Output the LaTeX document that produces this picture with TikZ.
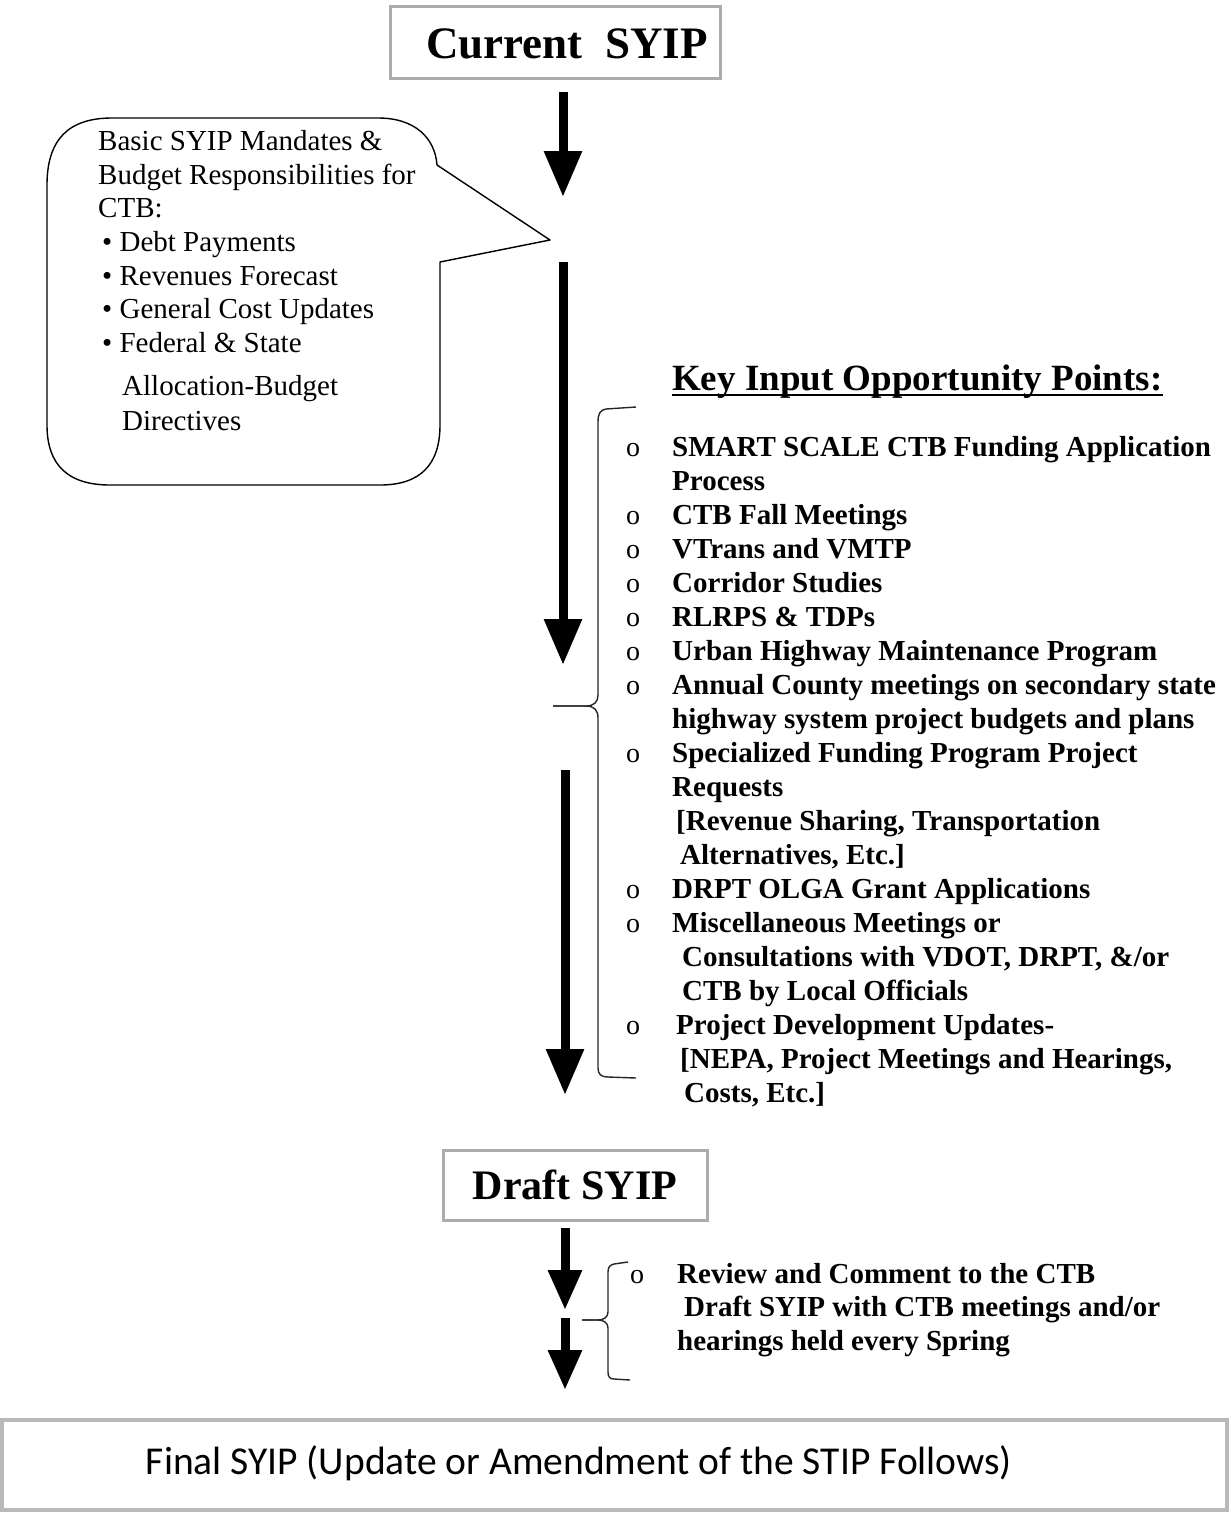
\documentclass[tikz,border=0pt]{standalone}
\usepackage{fontspec}
\setmainfont{Liberation Serif}
\newfontfamily\calib{Carlito}
\usetikzlibrary{arrows.meta}
\begin{document}
\tikzset{
 flowbox/.style={draw=gray!65, line width=3pt, inner sep=0pt},
 bigarrow/.style={line width=9pt, -{Triangle[width=36pt,length=46pt]}},
 thinline/.style={line width=1.4pt, line join=round},
 calltext/.style={anchor=base west, inner sep=0pt, font=\fontsize{29}{34}\selectfont},
 listtext/.style={anchor=base west, inner sep=0pt, font=\fontsize{29}{34}\selectfont\bfseries},
 bul/.style={anchor=base west, inner sep=0pt, font=\fontsize{28}{30}\selectfont},
}
\begin{tikzpicture}[x=1pt,y=-1pt]
\useasboundingbox (0,0) rectangle (1231,1521);
\fill[white] (0,0) rectangle (1231,1521);

% boxes
\node[flowbox, minimum width=330pt, minimum height=72pt] (cur) at (555,42) {};
\node[inner sep=0pt, font=\fontsize{45}{50}\selectfont\bfseries] (curt) at (567,44) {Current\ \ SYIP};
\node[flowbox, minimum width=264pt, minimum height=70pt, font=\fontsize{42}{48}\selectfont\bfseries] (draft) at (575,1185) {Draft SYIP};
\node[flowbox, draw=gray!55, line width=4pt, minimum width=1225pt, minimum height=90pt] (final) at (614.5,1465) {};
\node[inner sep=0pt, font=\calib\fontsize{39.5}{44}\selectfont] (ftext) at (579,1463) {Final SYIP (Update or Amendment of the STIP Follows)};

% arrows
\coordinate (a1s) at (563,92);   \coordinate (a1e) at (563,197);
\coordinate (a2s) at (563,262);  \coordinate (a2e) at (563,665);
\coordinate (a3s) at (565,770);  \coordinate (a3e) at (565,1095);
\coordinate (a4s) at (565,1228); \coordinate (a4e) at (565,1310);
\coordinate (a5s) at (565,1318); \coordinate (a5e) at (565,1390);
\draw[bigarrow] (a1s) -- (a1e);
\draw[bigarrow] (a2s) -- (a2e);
\draw[bigarrow] (a3s) -- (a3e);
\draw[bigarrow, -{Triangle[width=32pt,length=40pt]}] (a4s) -- (a4e);
\draw[bigarrow, -{Triangle[width=32pt,length=40pt]}] (a5s) -- (a5e);

% callout
\draw[thinline] (47,185) .. controls (47,140) and (68,118) .. (112,118) -- (378,118)
  .. controls (415,118) and (435,138) .. (437,165) -- (550,240) -- (440,262) -- (440,425)
  .. controls (440,465) and (420,485) .. (380,485) -- (110,485)
  .. controls (68,485) and (47,465) .. (47,425) -- cycle;
\node[calltext] (c1) at (98,150) {Basic SYIP Mandates \&};
\node[calltext] (c2) at (98,184) {Budget Responsibilities for};
\node[calltext] (c3) at (98,217) {CTB:};
\node[calltext] (c4) at (102,251) {• Debt Payments};
\node[calltext] (c5) at (102,285) {• Revenues Forecast};
\node[calltext] (c6) at (102,318) {• General Cost Updates};
\node[calltext] (c7) at (102,352) {• Federal \& State};
\node[calltext] (c8) at (122,395) {Allocation-Budget};
\node[calltext] (c9) at (122,430) {Directives};

% key input heading
\node[anchor=base west, inner sep=0pt, font=\fontsize{37}{40}\selectfont\bfseries] (key) at (672,390) {Key Input Opportunity Points:};
\draw[line width=2.5pt] ([yshift=-5pt]key.base west) -- ([yshift=-5pt]key.base east);

% big brace
\draw[thinline, gray!30!black] (636,407) -- (606,409) .. controls (600,410) and (598,414) .. (598,422)
  -- (598,695) .. controls (598,702) and (594,706) .. (586,706) -- (553,706);
\draw[thinline, gray!30!black] (553,706) -- (586,706) .. controls (594,706) and (598,710) .. (598,718)
  -- (598,1068) .. controls (598,1074) and (601,1077) .. (608,1077) -- (636,1078);

% list
\foreach \n/\b/\dx/\t in {
1/1/0/{SMART SCALE CTB Funding Application},
2/0/0/{Process},
3/1/0/{CTB Fall Meetings},
4/1/0/{VTrans and VMTP},
5/1/0/{Corridor Studies},
6/1/0/{RLRPS \& TDPs},
7/1/0/{Urban Highway Maintenance Program},
8/1/0/{Annual County meetings on secondary state},
9/0/0/{highway system project budgets and plans},
10/1/0/{Specialized Funding Program Project},
11/0/0/{Requests},
12/0/4/{[Revenue Sharing, Transportation},
13/0/8/{Alternatives, Etc.]},
14/1/0/{DRPT OLGA Grant Applications},
15/1/0/{Miscellaneous Meetings or},
16/0/10/{Consultations with VDOT, DRPT, \&/or},
17/0/10/{CTB by Local Officials},
18/1/4/{Project Development Updates-},
19/0/8/{[NEPA, Project Meetings and Hearings,},
20/0/12/{Costs, Etc.]}
}{
 \node[listtext] (li\n) at ({672+\dx},{456+34*(\n-1)}) {\t};
 \ifnum\b=1 \node[bul] (bu\n) at (626,{456+34*(\n-1)}) {o};\fi
}

% small brace
\draw[thinline, gray!30!black] (628,1262) -- (614,1264) .. controls (610,1265) and (608,1267) .. (608,1272)
  -- (608,1312) .. controls (608,1317) and (604,1320) .. (598,1320) -- (582,1320);
\draw[thinline, gray!30!black] (582,1320) -- (598,1320) .. controls (604,1320) and (608,1323) .. (608,1328)
  -- (608,1372) .. controls (608,1377) and (610,1379) .. (614,1379) -- (630,1380);
\node[bul] (bs) at (630,1283) {o};
\node[listtext] (s1) at (677,1283) {Review and Comment to the CTB};
\node[listtext] (s2) at (684,1316) {Draft SYIP with CTB meetings and/or};
\node[listtext] (s3) at (677,1350) {hearings held every Spring};
\end{tikzpicture}
\end{document}
